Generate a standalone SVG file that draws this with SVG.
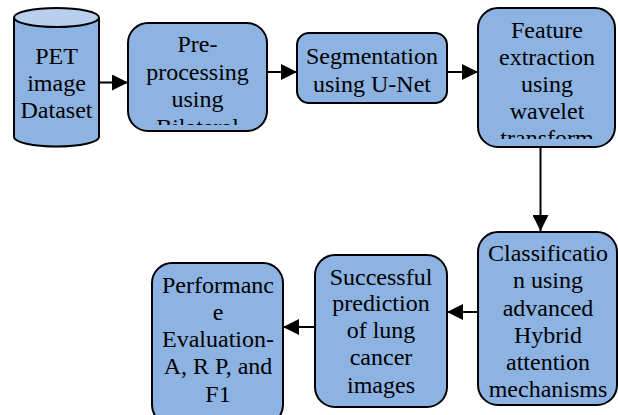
<svg xmlns="http://www.w3.org/2000/svg" width="618" height="415" viewBox="0 0 618 415">
<defs>
<style>
.box{fill:#8DB3E2;stroke:#000;stroke-width:2}
.t{font-family:'Liberation Serif','DejaVu Serif',serif;font-size:24px;fill:#000;text-anchor:middle}
.c{stroke:#000;stroke-width:2;fill:none}
</style>
<marker id="ah" markerUnits="userSpaceOnUse" markerWidth="16" markerHeight="16" refX="16" refY="8" orient="auto" viewBox="0 0 16 16">
<path d="M0,0 L16,8 L0,16 Z" fill="#000"/>
</marker>
<clipPath id="clipPre"><rect x="128" y="23" width="140" height="102"/></clipPath>
<clipPath id="clipFeat"><rect x="478" y="8" width="138" height="131"/></clipPath>
</defs>
<rect width="618" height="415" fill="#fff"/>
<g id="connectors">
<line class="c" x1="99" y1="82.5" x2="128" y2="82.5" marker-end="url(#ah)"/>
<line class="c" x1="267" y1="72" x2="297" y2="72" marker-end="url(#ah)"/>
<line class="c" x1="447" y1="72" x2="478" y2="72" marker-end="url(#ah)"/>
<line class="c" x1="540.5" y1="147" x2="540.5" y2="231" marker-end="url(#ah)"/>
<line class="c" x1="478" y1="312" x2="447" y2="312" marker-end="url(#ah)"/>
<line class="c" x1="315" y1="327" x2="283" y2="327" marker-end="url(#ah)"/>
</g>
<g id="pet-dataset">
<path class="box" d="M14,17.5 L14,137 A42.5,9.5 0 0 0 99,137 L99,17.5"/>
<ellipse cx="56.5" cy="17.5" rx="42.5" ry="9.5" fill="#B8CFEE" stroke="#000" stroke-width="2"/>
<text class="t" font-family="Liberation Serif, serif" x="56.5" y="64">PET</text>
<text class="t" x="56.5" y="91">image</text>
<text class="t" x="56.5" y="118">Dataset</text>
</g>
<g id="preprocessing">
<rect class="box" x="128" y="23" width="139" height="108" rx="20"/>
<g clip-path="url(#clipPre)">
<text class="t" x="197.5" y="52">Pre-</text>
<text class="t" x="197.5" y="80">processing</text>
<text class="t" x="197.5" y="107">using</text>
<text class="t" x="197.5" y="135">Bilateral</text>
</g>
</g>
<g id="segmentation">
<rect class="box" x="297" y="33" width="150" height="70" rx="12"/>
<text class="t" x="372" y="64">Segmentation</text>
<text class="t" x="372" y="92">using U-Net</text>
</g>
<g id="feature-extraction">
<rect class="box" x="478" y="8" width="137" height="139" rx="20"/>
<g clip-path="url(#clipFeat)">
<text class="t" x="547" y="38">Feature</text>
<text class="t" x="547" y="65">extraction</text>
<text class="t" x="547" y="92">using</text>
<text class="t" x="547" y="119">wavelet</text>
<text class="t" x="547" y="146">transform</text>
</g>
</g>
<g id="classification">
<rect class="box" x="478" y="232" width="139" height="173" rx="20"/>
<text class="t" x="548" y="261">Classificatio</text>
<text class="t" x="548" y="288">n using</text>
<text class="t" x="548" y="315.5">advanced</text>
<text class="t" x="548" y="342.5">Hybrid</text>
<text class="t" x="548" y="370">attention</text>
<text class="t" x="548" y="397">mechanisms</text>
</g>
<g id="prediction">
<rect class="box" x="315" y="255" width="132" height="152" rx="20"/>
<text class="t" x="381" y="285">Successful</text>
<text class="t" x="381" y="311">prediction</text>
<text class="t" x="381" y="338">of lung</text>
<text class="t" x="381" y="365">cancer</text>
<text class="t" x="381" y="393">images</text>
</g>
<g id="evaluation">
<rect class="box" x="152" y="263" width="131" height="162" rx="20"/>
<text class="t" x="218" y="293">Performanc</text>
<text class="t" x="218" y="320">e</text>
<text class="t" x="218" y="347">Evaluation-</text>
<text class="t" x="218" y="374">A, R P, and</text>
<text class="t" x="218" y="402">F1</text>
</g>
</svg>
